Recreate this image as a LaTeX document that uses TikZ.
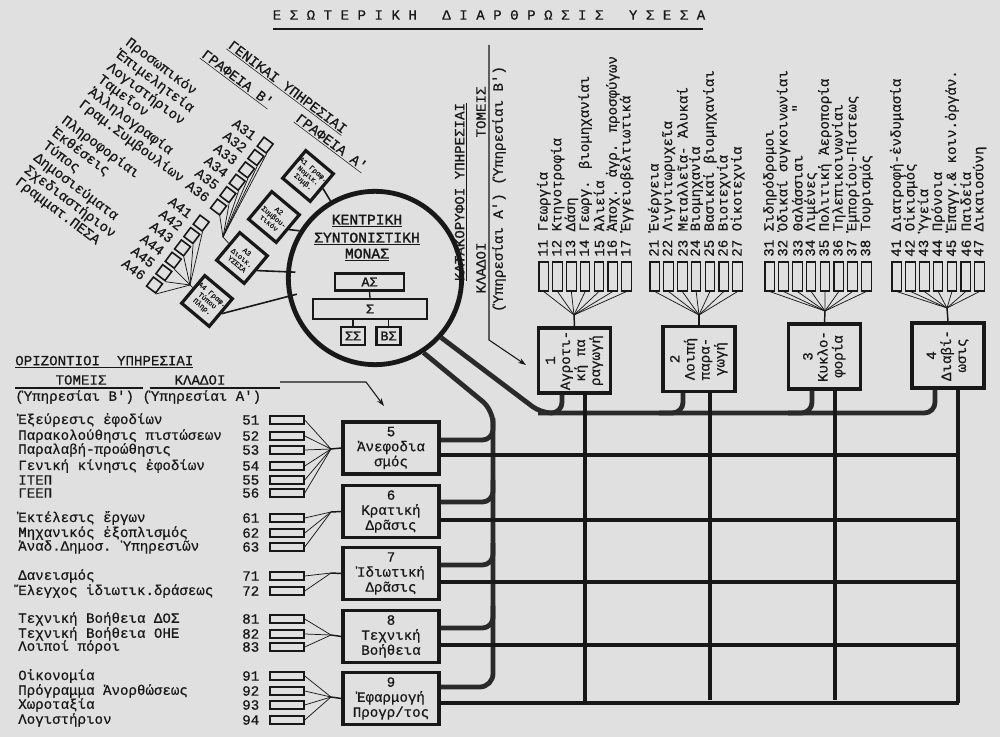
\documentclass[tikz,border=0pt]{standalone}
\usepackage{fontspec}
\setmainfont{Liberation Mono}
\newfontfamily\typewr{Liberation Mono}[FakeBold=0.6]
\newfontfamily\typeheavy{Liberation Mono}[FakeBold=1.6]
\usepackage{tikz}
\usetikzlibrary{arrows.meta, positioning, calc}
\definecolor{paper}{RGB}{224,224,224}
\definecolor{ink}{RGB}{24,24,24}
\definecolor{busgray}{RGB}{42,42,42}

\begin{document}
\begin{tikzpicture}[x=0.75pt, y=-0.75pt, font=\typewr\fontsize{10.6}{11.25}\selectfont, color=ink,
  bus/.style={draw=busgray, line width=3.6pt},
  gridline/.style={draw=ink, line width=3pt},
  fanline/.style={draw=ink, line width=0.55pt},
  stemline/.style={draw=ink, line width=1.1pt},
  link/.style={draw=ink, line width=1.2pt},
  tomeas/.style={draw, line width=2.3pt, minimum width=54pt, minimum height=48.75pt, inner sep=0pt},
  orizbox/.style={draw, line width=2.3pt, minimum width=72pt, minimum height=39pt, align=center, inner sep=0pt},
  kladv/.style={draw, line width=0.8pt, minimum width=7.1pt, minimum height=21.75pt, inner sep=0pt},
  kladh/.style={draw, line width=1.1pt, minimum width=25.5pt, minimum height=6pt, inner sep=0pt},
  vlabel/.style={rotate=90, anchor=west, inner sep=0pt},
  listtext/.style={anchor=west, inner sep=0pt},
  gsq/.style={draw, line width=1.2pt, minimum size=8.5pt, inner sep=0pt},
  abox/.style={draw, line width=2.4pt, rotate=-40, minimum size=27pt, inner sep=0.5pt, align=center, font=\typewr\fontsize{5.4}{5.9}\selectfont},
  mbox/.style={draw, line width=1.6pt, inner sep=0pt},
  headarrow/.style={line width=0.8pt, -{Stealth[length=6pt, width=4pt]}}]

  \fill[paper] (0,0) rectangle (1000,737);
  \useasboundingbox (0,0) rectangle (1000,737);

  % title
  \node (titlos) at (489,15) {Ε Σ Ω Τ Ε Ρ Ι Κ Η\ \ \ Δ Ι Α Ρ Θ Ρ Ω Σ Ι Σ\ \ \ Υ Σ Ε Σ Α};
  \draw[line width=1.4pt] (273,29) -- (703,29);

  % central unit
  \node[circle, draw, line width=3.6pt, minimum size=130pt, inner sep=0pt] (kem) at (375,278) {};
  \node[font=\typeheavy\fontsize{11}{12}\selectfont] (kt1) at (367,221) {\underline{ΚΕΝΤΡΙΚΗ}};
  \node[font=\typeheavy\fontsize{11}{12}\selectfont] (kt2) at (367,239) {\underline{ΣΥΝΤΟΝΙΣΤΙΚΗ}};
  \node[font=\typeheavy\fontsize{11}{12}\selectfont] (kt3) at (367,255) {\underline{ΜΟΝΑΣ}};
  \node[mbox, minimum width=51.75pt, minimum height=12.75pt, font=\typeheavy] (as) at (369.5,282) {ΑΣ};
  \node[mbox, minimum width=85.5pt, minimum height=15pt, font=\typeheavy] (sig) at (370,309) {Σ};
  \node[mbox, minimum width=18pt, minimum height=13.5pt, font=\typeheavy] (ss) at (353,336) {ΣΣ};
  \node[mbox, minimum width=18pt, minimum height=13.5pt, font=\typeheavy] (bs) at (388.5,336) {ΒΣ};
  \draw[line width=1pt] (as.south) -- (sig.north);
  \draw[line width=1pt] (ss.north |- sig.south) -- (ss.north);
  \draw[line width=1pt] (bs.north |- sig.south) -- (bs.north);

  % general services
  \node[rotate=-37] (genyp) at (287,88) {\underline{ΓΕΝΙΚΑΙ ΥΠΗΡΕΣΙΑΙ}};
  \node[rotate=-37] (grb) at (237,79) {\underline{ΓΡΑΦΕΙΑ Β'}};
  \node[rotate=-37] (gra) at (331,143) {\underline{ΓΡΑΦΕΙΑ Α'}};

  \node[abox] (a1) at (308,176) {Α1 Γραφ.\\Νομικ.\\Συμβ.};
  \node[abox] (a2) at (274,217) {Α2\\Συμβου-\\τικόν};
  \node[abox] (a3) at (242,258) {Α3\\Διοικ.\\ΥΣΕΣΑ};
  \node[abox] (a4) at (207,301) {Α4 Γραφ.\\Τύπου\\Πληρ.};
  \draw[link] (a1.east) -- (kem.120);
  \draw[link] (a2.east) -- (kem.148);
  \draw[link, shorten >=-7pt] (a3.east) -- (kem.176);
  \draw[link, shorten >=-7pt] (a4.east) -- (kem.192);

  \begin{scope}[shift={(130,37)}, rotate=-37, transform shape]
    \foreach \lab [count=\i] in {Προσωπικόν, Ἐπιμελητεία, Λογιστήριον, Ταμεῖον, Ἀλληλογραφία, Γραμ.Συμβουλίων} {
      \node[listtext] (y3\i) at (0,{5+15.5*(\i-1)}) {\lab};
      \node[listtext] (c3\i) at (134,{5+15.5*(\i-1)}) {A3\i};
      \node[gsq] (s3\i) at (173,{5+15.5*(\i-1)}) {};
    }
  \end{scope}
  \begin{scope}[shift={(66,115)}, rotate=-37, transform shape]
    \foreach \lab [count=\i] in {Πληροφορίαι, Ἐκθέσεις, Τύπος, Δημοσιεύματα, Σχεδιαστήριον, Γραμματ.ΠΕΣΑ} {
      \node[listtext] (y4\i) at (0,{5+15.5*(\i-1)}) {\lab};
      \node[listtext] (c4\i) at (134,{5+15.5*(\i-1)}) {A4\i};
      \node[gsq] (s4\i) at (173,{5+15.5*(\i-1)}) {};
    }
  \end{scope}
  \coordinate (fan3) at (223,237);
  \coordinate (fan4) at (190,285);
  \foreach \i in {1,...,6} {
    \draw[fanline] (s3\i.south east) -- (fan3);
    \draw[fanline] (s4\i.south east) -- (fan4);
  }
  \draw[fanline] (fan3) -- (a3);
  \draw[fanline] (fan4) -- (a4);

  % vertical services heading
  \node[rotate=90] (katak) at (461,192) {\underline{ΚΑΤΑΚΟΡΥΦΟΙ ΥΠΗΡΕΣΙΑΙ}};
  \node[rotate=90] (vklad) at (481,268) {ΚΛΑΔΟΙ};
  \node[rotate=90] (vtom) at (481,112) {ΤΟΜΕΙΣ};
  \node[rotate=90] (vyp) at (499,189) {(Ὑπηρεσίαι Α') (Ὑπηρεσίαι Β')};
  \coordinate (vstart) at (489,45);
  \coordinate (vbend) at (489,340);
  \coordinate (vend) at (526,365);
  \draw[headarrow] (vstart) -- (vbend) -- (vend);

  % sector boxes 1-4
  \node[tomeas] (b1) at (574.5,360.5) {\rotatebox{90}{\begin{tabular}{@{}c@{}}1\\Αγροτι-\\κή πα\\ραγωγή\end{tabular}}};
  \node[tomeas] (b2) at (699,359) {\rotatebox{90}{\begin{tabular}{@{}c@{}}2\\Λοιπή\\παρα-\\γωγή\end{tabular}}};
  \node[tomeas] (b3) at (824.5,356.5) {\rotatebox{90}{\begin{tabular}{@{}c@{}}3\\Κυκλο-\\φορία\end{tabular}}};
  \node[tomeas] (b4) at (948,355.5) {\rotatebox{90}{\begin{tabular}{@{}c@{}}4\\Διαβί-\\ωσις\end{tabular}}};

  \coordinate (fan1) at (574,315);
  \coordinate (fan2) at (699,315);
  \coordinate (fanc) at (825,311);
  \coordinate (fand) at (947,308);
  \draw[stemline] (b1.north) -- (fan1);
  \draw[stemline] (b2.north) -- (fan2);
  \draw[stemline] (b3.north) -- (fanc);
  \draw[stemline] (b4.north) -- (fand);

  \foreach \lab [count=\i] in {Γεωργία, Κτηνοτροφία, Δάση, Γεωργ. βιομηχανίαι, Ἁλιεία, Ἀποχ. ἀγρ. προσφύγων, Ἐγγειοβελτιωτικά} {
    \node[kladv] (r1\i) at ({543.75+13.8*(\i-1)},276.5) {};
    \node[vlabel] (l1\i) at ({543.75+13.8*(\i-1)},257) {1\i\ \lab};
    \draw[fanline] (r1\i.south) -- (fan1);
  }
  \foreach \lab [count=\i] in {Ἐνέργεια, Λιγνιτωρυχεῖα, Μεταλλεῖα- Ἁλυκαί, Βιομηχανία, Βασικαί βιομηχανίαι, Βιοτεχνία, Οἰκοτεχνία} {
    \node[kladv] (r2\i) at ({654.75+13.8*(\i-1)},276.5) {};
    \node[vlabel] (l2\i) at ({654.75+13.8*(\i-1)},257) {2\i\ \lab};
    \draw[fanline] (r2\i.south) -- (fan2);
  }
  \foreach \lab [count=\i] in {Σιδηρόδρομοι, Ὁδικαί συγκοινωνίαι, Θαλάσσιαι\phantom{xxxxx}", Λιμένες, Πολιτική Ἀεροπορία, Τηλεπικοινωνίαι, Ἐμπορίου-Πίστεως, Τουρισμός} {
    \node[kladv] (r3\i) at ({769.75+13.8*(\i-1)},276.5) {};
    \node[vlabel] (l3\i) at ({769.75+13.8*(\i-1)},257) {3\i\ \lab};
    \draw[fanline] (r3\i.south) -- (fanc);
  }
  \foreach \lab [count=\i] in {Διατροφή-ἐνδυμασία, Οἰκισμός, Ὑγεία, Πρόνοια, Ἐπαγγ.\& κοιν.ὀργάν., Παιδεία, Δικαιοσύνη} {
    \node[kladv] (r4\i) at ({896.75+13.8*(\i-1)},276.5) {};
    \node[vlabel] (l4\i) at ({896.75+13.8*(\i-1)},257) {4\i\ \lab};
    \draw[fanline] (r4\i.south) -- (fand);
  }

  % horizontal services heading
  \node[listtext] (horyp) at (15,362) {\underline{ΟΡΙΖΟΝΤΙΟΙ\ \ ΥΠΗΡΕΣΙΑΙ}};
  \node (htom) at (81,380) {ΤΟΜΕΙΣ};
  \node (hklad) at (200,380) {ΚΛΑΔΟΙ};
  \node[listtext] (hyp) at (15,397) {(Ὑπηρεσίαι Β') (Ὑπηρεσίαι Α')};
  \draw[line width=0.8pt] (15,388) -- (143,388);
  \draw[line width=0.8pt] (150,388) -- (280,388);
  \coordinate (hstart) at (280,382);
  \coordinate (hbend) at (366,382);
  \coordinate (hend) at (384,406);
  \draw[headarrow] (hstart) -- (hbend) -- (hend);

  % horizontal boxes 5-9
  \node[orizbox] (b5) at (391,448) {5\\Ἀνεφοδια\\σμός};
  \node[orizbox] (b6) at (391,511.5) {6\\Κρατική\\Δρᾶσις};
  \node[orizbox] (b7) at (391,573.5) {7\\Ἰδιωτική\\Δρᾶσις};
  \node[orizbox] (b8) at (391,636.5) {8\\Τεχνική\\Βοήθεια};
  \node[orizbox] (b9) at (391,698.5) {9\\Ἐφαρμογή\\Προγρ/τος};

  \foreach \num/\y/\lab in {51/420/Ἐξεύρεσις ἐφοδίων, 52/436/Παρακολούθησις πιστώσεων, 53/450/Παραλαβή-προώθησις,
      54/466/Γενική κίνησις ἐφοδίων, 55/480/ΙΤΕΠ, 56/493/ΓΕΕΠ,
      61/518/Ἐκτέλεσις ἔργων, 62/533/Μηχανικός ἐξοπλισμός, 63/547/Ἀναδ.Δημοσ. Ὑπηρεσιῶν,
      71/576/Δανεισμός, 72/591/Ἔλεγχος ἰδιωτικ.δράσεως,
      81/619/Τεχνική Βοήθεια ΔΟΣ, 82/634/Τεχνική Βοήθεια ΟΗΕ, 83/647/Λοιποί πόροι,
      91/676/Οἰκονομία, 92/691/Πρόγραμμα Ἀνορθώσεως, 93/705/Χωροταξία, 94/720/Λογιστήριον} {
    \node[listtext] (t\num) at (18,\y) {\lab};
    \node[listtext] (n\num) at (242,\y) {\num};
    \node[kladh] (k\num) at (287,\y) {};
  }
  \coordinate (f5) at (331,449);
  \coordinate (f6) at (331,512);
  \coordinate (f7) at (331,573);
  \coordinate (f8) at (331,635);
  \coordinate (f9) at (331,697);
  \foreach \n in {51,...,56} \draw[fanline] (k\n.east) -- (f5);
  \foreach \n in {61,62,63} \draw[fanline] (k\n.east) -- (f6);
  \foreach \n in {71,72} \draw[fanline] (k\n.east) -- (f7);
  \foreach \n in {81,82,83} \draw[fanline] (k\n.east) -- (f8);
  \foreach \n in {91,...,94} \draw[fanline] (k\n.east) -- (f9);
  \foreach \f/\b in {f5/b5, f6/b6, f7/b7, f8/b8, f9/b9} \draw[stemline] (\f) -- (\b.west);

  % buses from the central unit
  \draw[bus, rounded corners=8pt] (kem.318) -- (541,413) -- (935,413) -- (935,0 |- b4.south);
  \foreach \b/\x in {b1/562, b2/683, b3/812}
    \draw[bus, rounded corners=8pt] (\x-24,413) -- (\x,413) -- (\x,0 |- \b.south);
  \draw[bus, rounded corners=10pt] (kem.303) -- (493,410) -- (493,687) -- (b9.east |- 0,687);
  \foreach \b/\y in {b5/440, b6/502, b7/565, b8/628}
    \draw[bus, rounded corners=8pt] (\b.east |- 0,\y) -- (493,\y) -- (493,\y-22);

  % grid
  \foreach \b/\y in {b5/455, b6/520, b7/582, b8/645, b9/703}
    \draw[gridline] (\b.east |- 0,\y) -- (959,\y);
  \foreach \b/\x/\e in {b1/585/702, b2/710/700, b3/835/700, b4/958/703}
    \draw[gridline] (\x,0 |- \b.south) -- (\x,\e);

\end{tikzpicture}
\end{document}
